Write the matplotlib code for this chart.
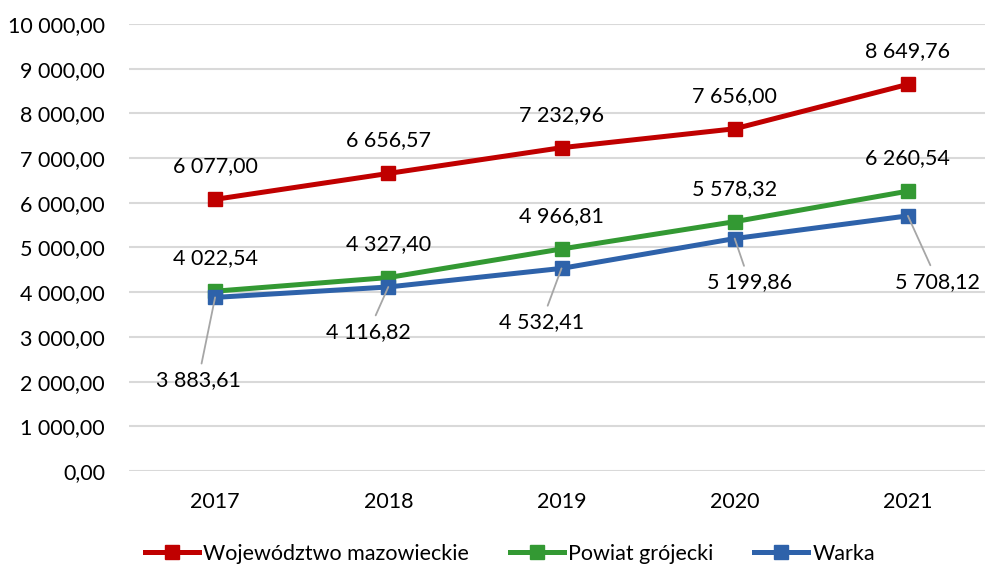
import matplotlib
matplotlib.use("Agg")
import matplotlib.pyplot as plt
from matplotlib.ticker import FuncFormatter

plt.rcParams['font.family'] = ['Lato', 'DejaVu Sans']

years = ["2017", "2018", "2019", "2020", "2021"]
mazowieckie = [6077.00, 6656.57, 7232.96, 7656.00, 8649.76]
grojecki = [4022.54, 4327.40, 4966.81, 5578.32, 6260.54]
warka = [3883.61, 4116.82, 4532.41, 5199.86, 5708.12]
series_names = ["Województwo mazowieckie", "Powiat grójecki", "Warka"]

# label offsets in pixels (dx, dy)
warka_offsets = [(-17, -83), (-20, -45), (-20, -54), (15, -44), (30, -66)]


def pl_fmt(v, pos=None):
    return f"{v:,.2f}".replace(",", " ").replace(".", ",")


fig = plt.figure(figsize=(9.85, 5.65), dpi=100)
ax = fig.add_axes([128.5 / 985, 94 / 565, 866 / 985, 447 / 565])

x = range(len(years))
colors = ["#C00000", "#339933", "#2E62AA"]
fs = 15.5

for vals, col, name in zip([mazowieckie, grojecki, warka], colors, series_names):
    ax.plot(x, vals, color=col, lw=3.6, marker="s", ms=10.5, label=name,
            solid_joinstyle="round", zorder=3)

for i, v in enumerate(mazowieckie):
    ax.annotate(pl_fmt(v), (i, v), xytext=(0, 33), textcoords="offset pixels",
                ha="center", va="center", fontsize=fs)
for i, v in enumerate(grojecki):
    ax.annotate(pl_fmt(v), (i, v), xytext=(0, 33), textcoords="offset pixels",
                ha="center", va="center", fontsize=fs)
for i, v in enumerate(warka):
    ax.annotate(pl_fmt(v), (i, v), xytext=warka_offsets[i], textcoords="offset pixels",
                ha="center", va="center", fontsize=fs,
                arrowprops=dict(arrowstyle="-", color="#A6A6A6", lw=1.3,
                                shrinkA=3, shrinkB=0))

ax.set_xlim(-0.5, 4.5)
ax.set_ylim(0, 10000)
ax.set_yticks(range(0, 10001, 1000))
ax.yaxis.set_major_formatter(FuncFormatter(pl_fmt))
ax.set_xticks(list(x))
ax.set_xticklabels(years)
ax.tick_params(axis="both", length=0, labelsize=fs)
ax.tick_params(axis="y", pad=17)
ax.tick_params(axis="x", pad=15)
ax.grid(axis="y", color="#D9D9D9", lw=1.5, zorder=0)
ax.set_axisbelow(True)
for s in ax.spines.values():
    s.set_visible(False)

fig.legend(loc="center", bbox_to_anchor=(510 / 985, 1 - 554 / 565), ncol=3,
           frameon=False, fontsize=fs, handlelength=2.5, handletextpad=0.2,
           columnspacing=1.9, borderpad=0)

fig.savefig("out.png", dpi=100)
